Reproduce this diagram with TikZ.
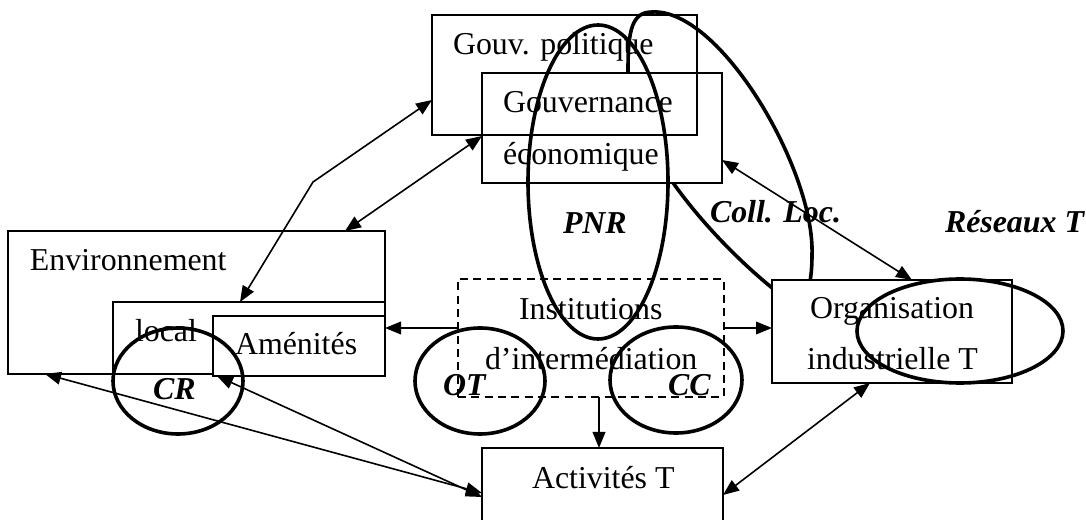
\documentclass[tikz,border=0pt]{standalone}
\usepackage{fontspec}
\setmainfont{Liberation Serif}
\usetikzlibrary{arrows.meta,shapes.geometric,fit}

\begin{document}
\begin{tikzpicture}[x=0.75pt,y=-0.75pt,
  every node/.style={inner sep=0pt,outer sep=0pt},
  boxline/.style={draw,line width=1.2pt},
  dashbox/.style={draw,line width=1.2pt,dash pattern=on 6pt off 4pt},
  wtext/.style={anchor=base west,font=\fontsize{23.9pt}{28pt}\selectfont},
  itag/.style={anchor=base west,font=\fontsize{23.9pt}{28pt}\selectfont\bfseries\itshape},
  ringline/.style={draw,line width=2.7pt},
  ring/.style={draw,ellipse,line width=2.7pt},
  onearrow/.style={line width=1.2pt,-{Triangle[length=12pt,width=9.5pt]}},
  twoarrow/.style={line width=1.2pt,{Triangle[length=12pt,width=9.5pt]}-{Triangle[length=12pt,width=9.5pt]}}]

\useasboundingbox (0,0) rectangle (1086,520);

% Coll. Loc. oval, partly covered by the boxes drawn after it
\draw[ringline] (652,12)
  .. controls (720,8) and (815,170) .. (812,255)
  .. controls (812,285) and (806,312) .. (788,300)
  .. controls (745,270) and (628,160) .. (628,70)
  .. controls (628,30) and (632,12) .. cycle;

% governance boxes
\node[boxline,fill=white,fit={(482,73) (722,183)}] (ge) {};
\node[boxline,fit={(432,15) (697,135)}] (gp) {};

% industrial organisation
\node[boxline,fill=white,fit={(772,280) (1012,383)}] (org) {};

% local environment
\node[boxline,fit={(8,231) (385,374)}] (env) {};
\node[boxline,fit={(113,302) (385,374)}] (loc) {};
\node[boxline,fill=white,fit={(213,316) (385,376)}] (amen) {};

% intermediation institutions and activities
\node[dashbox,fit={(458,279) (724,397)}] (inst) {};
\node[boxline,fit={(482,448) (723,522)}] (act) {};

% box texts
\node[wtext] (tgp) at (453,55) {Gouv. politique};
\node[wtext] (tge1) at (503,113) {Gouvernance};
\node[wtext] (tge2) at (503,165) {économique};
\node[wtext] (tenv) at (30,271) {Environnement};
\node[wtext] (tloc) at (135,342) {local};
\node[wtext] (tamen) at (235,355) {Aménités};
\node[wtext] (tinst1) at (519,320) {Institutions};
\node[wtext] (tinst2) at (485,370) {d’intermédiation};
\node[wtext] (torg1) at (810,319) {Organisation};
\node[wtext] (torg2) at (807,370) {industrielle T};
\node[wtext] (tact) at (532,488) {Activités T};

% actor ovals
\node[ring,minimum width=105pt,minimum height=235.5pt] (pnr) at (598,182) {};
\node[ring,minimum width=97.5pt,minimum height=79.5pt] (cr) at (178,381) {};
\node[ring,minimum width=97.5pt,minimum height=79.5pt] (ot) at (480,381) {};
\node[ring,minimum width=99pt,minimum height=79.5pt] (cc) at (676,380) {};
\node[ring,minimum width=154.5pt,minimum height=78pt] (res) at (960,331) {};

% actor labels
\node[itag] (lpnr) at (563,234) {PNR};
\node[itag] (lcoll) at (710,223) {Coll. Loc.};
\node[itag] (lres) at (945,233) {Réseaux T};
\node[itag] (lcr) at (153,400) {CR};
\node[itag] (lot) at (443,396) {OT};
\node[itag] (lcc) at (668,396) {CC};

% connector end points
\coordinate (gpA) at ([yshift=26.25pt]gp.south west);
\coordinate (bend) at (313,182);
\coordinate (locA) at ([xshift=95.25pt]loc.north west);
\coordinate (geA) at ([yshift=-47.25pt]ge.north west);
\coordinate (envA) at ([xshift=-30pt]env.north east);
\coordinate (geB) at ([yshift=17.25pt]ge.south east);
\coordinate (orgA) at ([xshift=105pt]org.north west);
\coordinate (il) at ([yshift=7.5pt]inst.west);
\coordinate (ir) at ([yshift=7.5pt]inst.east);
\coordinate (ib) at ([xshift=6pt]inst.south);
\coordinate (actR) at ([yshift=-7.5pt]act.east);
\coordinate (orgB) at ([xshift=73.5pt]org.south west);
\coordinate (actL1) at ([yshift=-6pt]act.west);
\coordinate (envB) at ([xshift=27.75pt]env.south west);
\coordinate (actL2) at ([yshift=-9pt]act.west);
\coordinate (amenB) at ([xshift=3pt]amen.south west);

% connectors
\draw[twoarrow] (gpA) -- (bend) -- (locA);
\draw[twoarrow] (geA) -- (envA);
\draw[twoarrow] (geB) -- (orgA);
\draw[onearrow] (il) -- (il -| amen.east);
\draw[onearrow] (ir) -- (ir -| org.west);
\draw[onearrow] (ib) -- (ib |- act.north);
\draw[twoarrow] (actR) -- (orgB);
\draw[twoarrow] (actL1) -- (envB);
\draw[twoarrow] (actL2) -- (amenB);
\end{tikzpicture}
\end{document}
